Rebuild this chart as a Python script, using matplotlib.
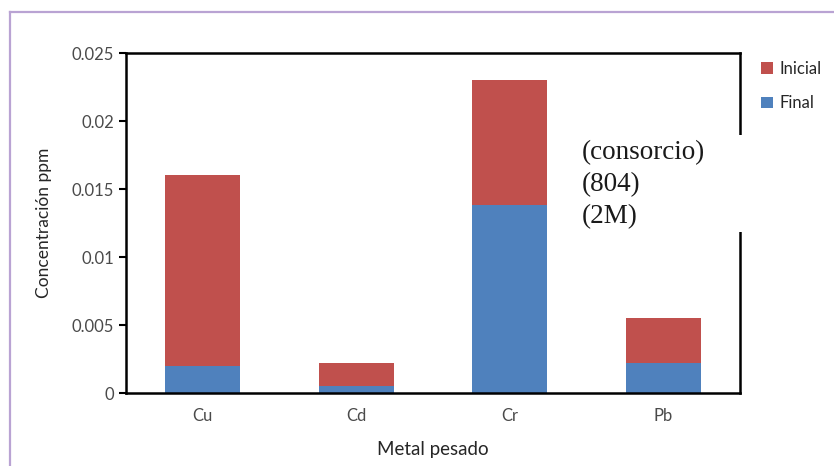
import matplotlib
matplotlib.use("Agg")
import matplotlib.pyplot as plt
from matplotlib.patches import Rectangle
from matplotlib.lines import Line2D

metales = ["Cu", "Cd", "Cr", "Pb"]
final = [0.002, 0.0005, 0.0138, 0.0022]
inicial = [0.014, 0.0017, 0.0092, 0.0033]   # segmento apilado encima de Final

rojo = "#C0504D"
azul = "#4F81BD"
gris = "#4a4a4a"

plt.rcParams['font.family'] = ['Lato', 'DejaVu Sans']

fig = plt.figure(figsize=(8.34, 4.66), dpi=100)
ax = fig.add_axes([126/834, 1-393/466, 614/834, 340/466])

x = range(len(metales))
b1 = ax.bar(x, final, width=0.49, color=azul, label="Final", zorder=2)
b2 = ax.bar(x, inicial, width=0.49, bottom=final, color=rojo, label="Inicial", zorder=2)

ax.set_xlim(-0.5, 3.5)
ax.set_ylim(0, 0.025)
ax.set_yticks([0, 0.005, 0.01, 0.015, 0.02, 0.025])
ax.set_yticklabels(["0", "0.005", "0.01", "0.015", "0.02", "0.025"])
ax.set_xticks(list(x))
ax.set_xticklabels(metales)
ax.tick_params(axis='y', colors='black', labelcolor=gris, labelsize=12, length=5, width=1.5)
ax.tick_params(axis='x', length=0, labelcolor=gris, labelsize=12, pad=11)
for s in ax.spines.values():
    s.set_linewidth(1.8)
    s.set_color("black")

ax.set_ylabel("Concentración ppm", fontsize=12.5, color="#262626", labelpad=14)
ax.set_xlabel("Metal pesado", fontsize=13.5, color="#262626", labelpad=12)

ax.legend([b2, b1], ["Inicial", "Final"], loc="upper left",
          bbox_to_anchor=(746/834, 1-46/466), bbox_transform=fig.transFigure,
          frameon=False, handlelength=0.7, handleheight=0.7, handletextpad=0.4,
          labelspacing=1.1, fontsize=12, labelcolor="#262626")

# recuadro blanco con el texto superpuesto
fig.add_artist(Rectangle((572/834, 1-232/466), 195/834, 97/466,
                         transform=fig.transFigure, facecolor="white",
                         edgecolor="none", zorder=5))
fig.text(582/834, 1-140/466, "(consorcio)\n(804)\n(2M)",
         family=["Liberation Serif", "DejaVu Serif"], fontsize=19.5,
         color="#1a1a1a", va="top", ha="left", linespacing=1.38, zorder=6)

# marco morado exterior
fig.add_artist(Line2D([10/834, 1], [1-12/466, 1-12/466], transform=fig.transFigure,
                      color="#B9A3D3", lw=1.6))
fig.add_artist(Line2D([10/834, 10/834], [0, 1-12/466], transform=fig.transFigure,
                      color="#B9A3D3", lw=1.6))

fig.savefig("out.png", dpi=100, facecolor="white")
